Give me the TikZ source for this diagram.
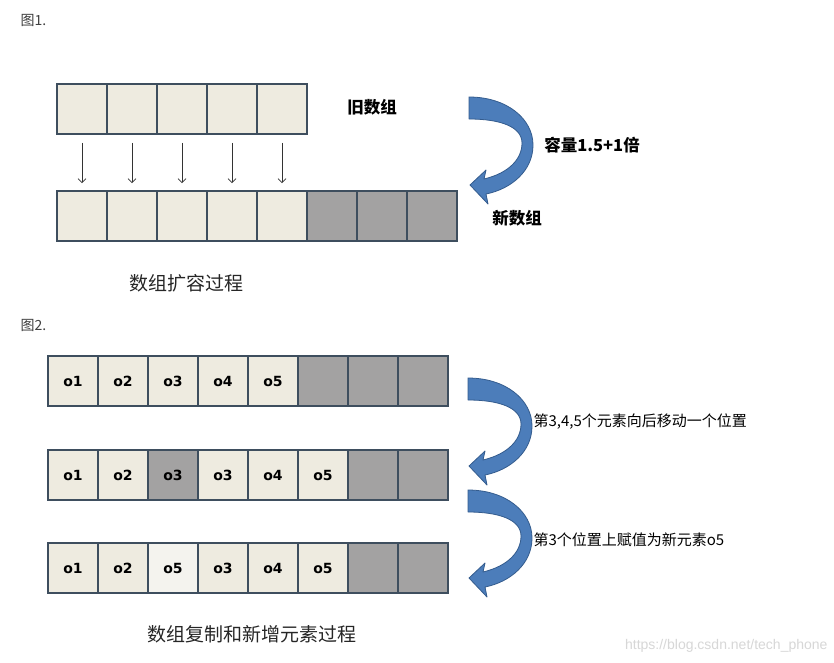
\documentclass[tikz,border=0pt]{standalone}
\usepackage{fontspec}
\usetikzlibrary{arrows.meta}
\setmainfont{DejaVu Sans}
\newfontfamily\cjk{Noto Sans CJK SC}
\newfontfamily\webfont{Liberation Sans}
\definecolor{cellfill}{RGB}{238,235,224}
\definecolor{cellwhite}{RGB}{244,243,238}
\definecolor{cellgray}{RGB}{163,162,162}
\definecolor{cellline}{RGB}{62,78,94}
\definecolor{arrowblue}{RGB}{76,125,186}
\definecolor{arrowedge}{RGB}{52,92,142}
\definecolor{marklight}{RGB}{215,215,215}

% curved blue arrow, #1 = upper left corner of its tail
\newcommand{\turnarrow}[1]{%
  \begin{scope}[shift={#1}]
    \filldraw[fill=arrowblue,draw=arrowedge,line width=0.8pt,line join=round]
      (0,0) .. controls (38,0) and (64,22) .. (64,48)
      .. controls (64,74) and (42,92) .. (17,97)
      -- (19,107) -- (1,88) -- (17,73) -- (15,82)
      .. controls (40,76) and (53,62) .. (53,46)
      .. controls (53,30) and (32,22) .. (0,22) -- cycle;
  \end{scope}}

\begin{document}
\begin{tikzpicture}[x=1pt,y=-1pt,
    cell/.style={draw=cellline,fill=cellfill,line width=1.6pt,minimum width=50pt,
      minimum height=50pt,inner sep=0pt,font=\bfseries\fontsize{14}{14}\selectfont},
    gcell/.style={cell,fill=cellgray},
    figlabel/.style={anchor=west,text=black!75,font=\cjk\fontsize{14}{14}\selectfont},
    boldlabel/.style={font=\cjk\bfseries\fontsize{16.5}{16.5}\selectfont},
    caption/.style={text=black!85,font=\cjk\fontsize{19}{19}\selectfont},
    steplabel/.style={anchor=west,font=\cjk\fontsize{15}{15}\selectfont}]
    \fill[white] (0,0) rectangle (834,662);
    \useasboundingbox (0,0) rectangle (834,662);

    % Figure 1: growing the array
    \node[figlabel] (fig1) at (17,20) {图1.};
    \foreach \i in {1,...,5}
        \node[cell] (old\i) at ({32+50*\i},109) {};
    \foreach \i in {1,...,5}
        \node[cell] (new\i) at ({32+50*\i},216) {};
    \foreach \i in {6,7,8}
        \node[gcell] (new\i) at ({32+50*\i},216) {};
    \foreach \i in {1,...,5}
        \draw[-{Straight Barb[length=4pt,width=8pt]},line width=0.7pt,draw=black!80,
            shorten <=8pt,shorten >=7pt] (old\i) -- (new\i);

    \node[boldlabel] (oldname) at (372,107) {旧数组};
    \node[boldlabel] (growth) at (592,145) {容量1.5+1倍};
    \node[boldlabel] (newname) at (517,218) {新数组};
    \turnarrow{(469,97)}
    \node[caption] (cap1) at (186,283) {数组扩容过程};

    % Figure 2: copying and inserting
    \node[figlabel] (fig2) at (17,325) {图2.};
    \foreach \i/\t in {1/o1,2/o2,3/o3,4/o4,5/o5}
        \node[cell] (rowa\i) at ({23+50*\i},381) {\t};
    \foreach \i in {6,7,8}
        \node[gcell] (rowa\i) at ({23+50*\i},381) {};

    \foreach \i/\t in {1/o1,2/o2,4/o3,5/o4,6/o5}
        \node[cell] (rowb\i) at ({23+50*\i},475) {\t};
    \node[gcell] (rowb3) at (173,475) {o3};
    \foreach \i in {7,8}
        \node[gcell] (rowb\i) at ({23+50*\i},475) {};

    \foreach \i/\t in {1/o1,2/o2,4/o3,5/o4,6/o5}
        \node[cell] (rowc\i) at ({23+50*\i},568) {\t};
    \node[cell,fill=cellwhite] (rowc3) at (173,568) {o5};
    \foreach \i in {7,8}
        \node[gcell] (rowc\i) at ({23+50*\i},568) {};

    \turnarrow{(468,378)}
    \node[steplabel] (shift) at (530,422) {第3,4,5个元素向后移动一个位置};
    \turnarrow{(468,490)}
    \node[steplabel] (assign) at (530,540) {第3个位置上赋值为新元素o5};
    \node[caption] (cap2) at (252,634) {数组复制和新增元素过程};

    \node[anchor=east,text=marklight,font=\webfont\fontsize{14}{14}\selectfont] (mark)
        at (831,646) {https://blog.csdn.net/tech\_phone};
\end{tikzpicture}
\end{document}
